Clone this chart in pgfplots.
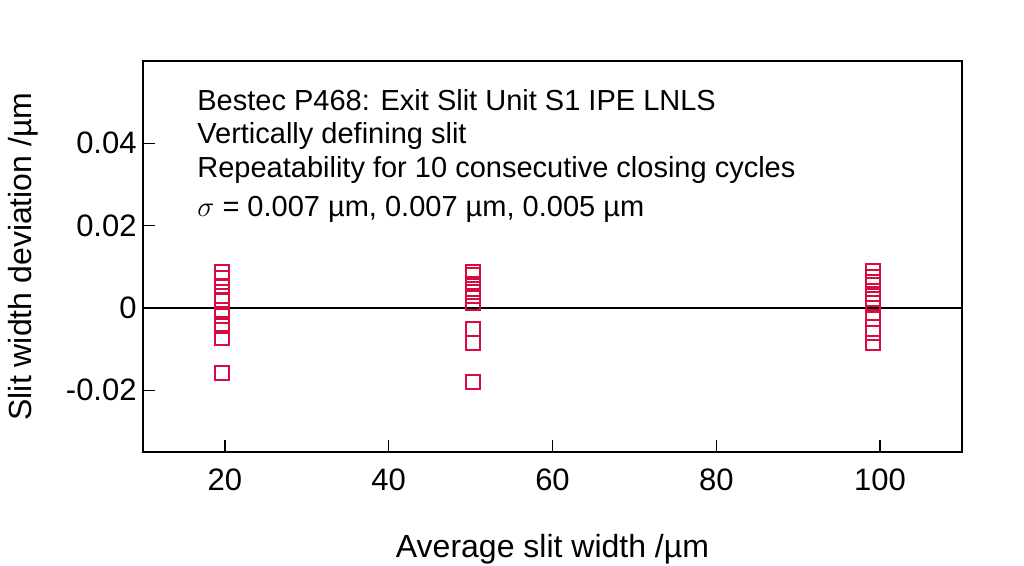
\documentclass[border=0pt]{standalone}
\usepackage{fontspec}
\setmainfont{Liberation Sans}
\usepackage{pgfplots}
\pgfplotsset{compat=1.18}
\definecolor{slitred}{RGB}{218,10,66}

\begin{document}
\begin{tikzpicture}
\begin{axis}[
  at={(0,0)}, anchor=south west,
  scale only axis,
  width=409.5pt, height=195.5pt,
  xmin=10, xmax=110,
  ymin=-0.035, ymax=0.06,
  xtick={20,40,60,80,100},
  ytick={-0.02,0,0.02,0.04},
  yticklabels={-0.02,0,0.02,0.04},
  xtick pos=lower, ytick pos=left,
  tick align=inside,
  major tick length=6pt,
  axis line style={line width=0.75pt},
  tick style={line width=0.75pt, black},
  /pgf/number format/assume math mode=true,
  xticklabel style={font=\fontsize{15.5}{18}\selectfont, anchor=base, inner sep=0pt, yshift=-19.5pt},
  yticklabel style={font=\fontsize{15.5}{18}\selectfont, anchor=east, inner sep=0pt, xshift=-3pt},
  scaled y ticks=false,
  clip=false,
]
\addplot[only marks, mark=square, mark size=3.5pt,
  mark options={draw=slitred, fill=none, line width=1pt}]
  coordinates {
  (19.7,0.0087)(19.7,0.0073)(19.7,0.0050)(19.7,0.0030)(19.7,0.0020)
  (19.7,-0.0005)(19.7,-0.0020)(19.7,-0.0045)(19.7,-0.0072)(19.7,-0.0159)
  (50.3,0.0087)(50.3,0.0080)(50.3,0.0058)(50.3,0.0045)(50.3,0.0038)
  (50.3,0.0028)(50.3,0.0012)(50.3,-0.0050)(50.3,-0.0085)(50.3,-0.0179)
  (99.1,0.0089)(99.1,0.0075)(99.1,0.0062)(99.1,0.0035)(99.1,0.0022)
  (99.1,0.0012)(99.1,-0.0012)(99.1,-0.0028)(99.1,-0.0062)(99.1,-0.0085)
  };
\addplot[black, line width=0.75pt] coordinates {(10,0)(110,0)};

\node[anchor=base west, inner sep=0pt, font=\fontsize{14.5}{17}\selectfont]
  at ([xshift=27pt, yshift=-24.5pt]rel axis cs:0,1) {Bestec P468: Exit Slit Unit S1 IPE LNLS};
\node[anchor=base west, inner sep=0pt, font=\fontsize{14.5}{17}\selectfont]
  at ([xshift=27pt, yshift=-41.2pt]rel axis cs:0,1) {Vertically defining slit};
\node[anchor=base west, inner sep=0pt, font=\fontsize{14.5}{17}\selectfont]
  at ([xshift=27pt, yshift=-58pt]rel axis cs:0,1) {Repeatability for 10 consecutive closing cycles};
\node[anchor=base west, inner sep=0pt, font=\fontsize{14.5}{17}\selectfont]
  at ([xshift=27pt, yshift=-77.8pt]rel axis cs:0,1) {$\sigma$ = 0.007 µm, 0.007 µm, 0.005 µm};

\node[anchor=base, inner sep=0pt, font=\fontsize{16}{19}\selectfont]
  at ([yshift=-53pt]rel axis cs:0.5,0) {Average slit width /µm};
\node[rotate=90, anchor=base, inner sep=0pt, font=\fontsize{16}{19}\selectfont]
  at ([xshift=-55.5pt]rel axis cs:0,0.5) {Slit width deviation /µm};
\end{axis}
\pgfresetboundingbox
\path[use as bounding box] (-71.5pt,-57pt) rectangle (440.5pt,226pt);
\end{tikzpicture}
\end{document}
